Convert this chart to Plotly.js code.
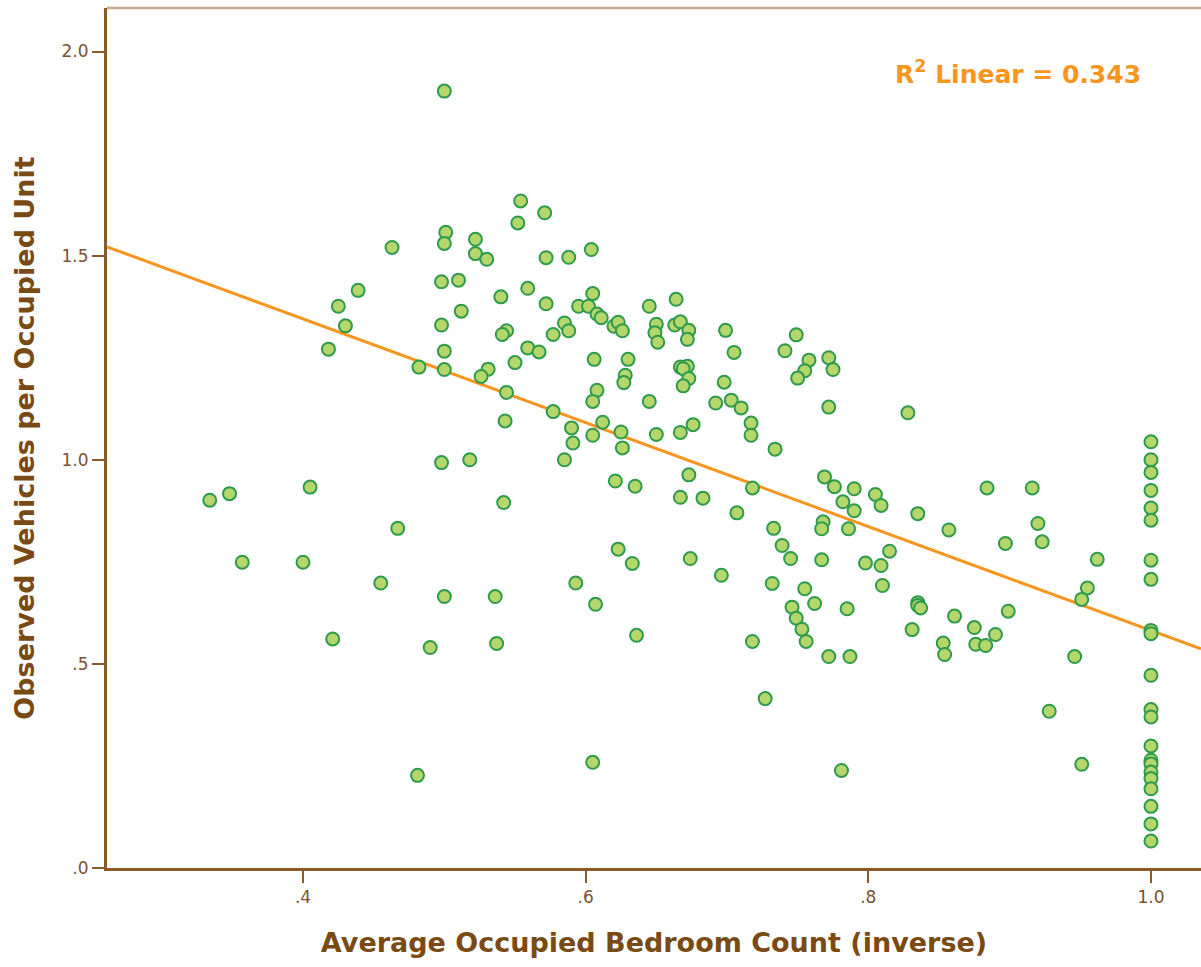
<!DOCTYPE html>
<html>
<head>
<meta charset="utf-8">
<script src="https://cdn.plot.ly/plotly-3.0.1.min.js"></script>
<style>
html,body{margin:0;padding:0;background:#fff;}
#chart{width:1201px;height:967px;}
</style>
</head>
<body>
<div id="chart"></div>
<script>
// Average Occupied Bedroom Count (inverse)
const bedroomInverse = [
  0.554,0.571,0.552,0.501,0.500,0.522,0.522,0.530,0.463,0.572,
  0.498,0.510,0.439,0.540,0.559,0.572,0.425,0.512,0.498,0.430,
  0.544,0.541,0.577,0.418,0.500,0.559,0.567,0.550,0.482,0.500,
  0.531,0.526,0.544,0.543,0.577,0.498,0.518,0.405,0.348,0.334,
  0.542,0.500,
  0.588,0.604,0.605,0.595,0.602,0.608,0.611,0.585,0.588,0.620,
  0.623,0.626,0.645,0.664,0.650,0.649,0.651,0.663,0.667,0.673,
  0.672,0.699,0.705,0.606,0.630,0.628,0.627,0.608,0.605,0.667,
  0.672,0.669,0.673,0.669,0.645,0.698,0.692,0.703,0.710,0.717,
  0.717,0.734,0.741,0.749,0.758,0.755,0.750,0.772,0.775,0.772,
  0.828,0.590,0.591,0.585,0.605,0.612,0.625,0.626,0.650,0.667,
  0.676,0.621,0.635,0.673,0.667,0.683,0.718,0.707,0.769,0.776,
  0.790,0.782,0.790,0.805,0.809,0.768,
  0.884,0.835,0.857,0.897,0.767,0.786,0.733,0.739,0.745,0.767,
  0.798,0.809,0.815,0.810,0.732,0.755,0.762,0.785,0.746,0.749,
  0.753,0.756,0.772,0.787,0.727,0.718,0.674,0.696,0.633,0.623,
  0.636,0.835,0.835,0.837,0.831,0.861,0.875,0.890,0.899,0.853,
  0.854,0.876,0.883,0.781,
  0.467,0.357,0.400,0.455,0.593,0.607,0.500,0.536,0.421,0.490,
  0.537,0.481,0.605,
  1.0,1.0,1.0,1.0,1.0,1.0,1.0,1.0,1.0,1.0,
  1.0,1.0,1.0,1.0,1.0,1.0,1.0,1.0,1.0,1.0,
  1.0,1.0,
  0.916,0.920,0.923,0.962,0.955,0.951,0.946,0.928,0.951
];
// Observed Vehicles per Occupied Unit
const vehiclesPerUnit = [
  1.634,1.605,1.580,1.557,1.530,1.540,1.505,1.491,1.520,1.495,
  1.436,1.440,1.415,1.399,1.420,1.382,1.376,1.364,1.330,1.328,
  1.316,1.307,1.307,1.271,1.266,1.274,1.264,1.238,1.227,1.221,
  1.222,1.204,1.165,1.095,1.118,0.993,1.000,0.933,0.917,0.901,
  0.895,1.903,
  1.496,1.515,1.407,1.376,1.376,1.357,1.348,1.335,1.316,1.327,
  1.337,1.316,1.376,1.393,1.332,1.311,1.288,1.330,1.338,1.317,
  1.295,1.317,1.263,1.246,1.246,1.207,1.189,1.170,1.143,1.227,
  1.229,1.223,1.199,1.181,1.143,1.190,1.139,1.146,1.127,1.090,
  1.060,1.026,1.267,1.306,1.244,1.218,1.200,1.250,1.221,1.129,
  1.115,1.078,1.041,1.000,1.060,1.092,1.068,1.029,1.062,1.067,
  1.086,0.948,0.935,0.963,0.908,0.906,0.931,0.870,0.958,0.934,
  0.929,0.897,0.875,0.915,0.888,0.848,
  0.931,0.868,0.828,0.795,0.831,0.831,0.832,0.790,0.758,0.755,
  0.747,0.741,0.776,0.692,0.697,0.684,0.648,0.635,0.639,0.612,
  0.585,0.555,0.518,0.518,0.415,0.555,0.758,0.717,0.746,0.781,
  0.570,0.650,0.643,0.637,0.584,0.617,0.589,0.572,0.629,0.551,
  0.523,0.548,0.545,0.239,
  0.832,0.749,0.749,0.698,0.698,0.646,0.665,0.665,0.561,0.540,
  0.550,0.227,0.259,
  1.044,1.000,0.969,0.925,0.882,0.852,0.754,0.707,0.582,0.574,
  0.472,0.388,0.370,0.299,0.264,0.255,0.235,0.219,0.194,0.151,
  0.108,0.066,
  0.931,0.844,0.799,0.756,0.686,0.658,0.518,0.384,0.254
];
// Linear fit
const fitIntercept = 1.854;
const fitSlope = -1.272;
const rSquared = 0.343;
const xRange = [0.2613, 1.0354];
const yRange = [0, 2.1066];
const xTickVals = [0.4, 0.6, 0.8, 1.0];
const xTickText = ['.4', '.6', '.8', '1.0'];
const yTickVals = [0, 0.5, 1.0, 1.5, 2.0];
const yTickText = ['.0', '.5', '1.0', '1.5', '2.0'];

const fitX = [xRange[0], xRange[1]];
const fitY = fitX.map(v => fitIntercept + fitSlope * v);

const brown = '#8B5A2B';
const titleBrown = '#7A4A14';
const orange = '#F7961E';

const traces = [
  {
    x: fitX, y: fitY, type: 'scatter', mode: 'lines',
    line: {color: orange, width: 3}, hoverinfo: 'skip', showlegend: false
  },
  {
    x: bedroomInverse, y: vehiclesPerUnit, type: 'scatter', mode: 'markers',
    marker: {size: 13, color: '#B4D66B', line: {color: '#2E9A4C', width: 2}},
    showlegend: false, cliponaxis: false
  }
];

const layout = {
  width: 1201, height: 967,
  margin: {l: 107, r: 0, t: 8, b: 99},
  paper_bgcolor: '#ffffff', plot_bgcolor: '#ffffff',
  font: {family: 'DejaVu Sans, sans-serif', color: titleBrown},
  xaxis: {
    range: xRange, showgrid: false, zeroline: false,
    showline: true, linecolor: brown, linewidth: 2.5,
    ticks: 'outside', ticklen: 12, tickwidth: 2, tickcolor: brown,
    tickvals: xTickVals, ticktext: xTickText,
    tickfont: {size: 17, color: '#7A5230', family: 'DejaVu Sans, sans-serif'},
    title: {text: 'Average Occupied Bedroom Count (inverse)', standoff: 27,
            font: {size: 27, color: titleBrown, family: 'DejaVu Sans, sans-serif', weight: 'bold'}},
    automargin: false, fixedrange: true
  },
  yaxis: {
    range: yRange, showgrid: false, zeroline: false,
    showline: true, linecolor: brown, linewidth: 3,
    ticks: 'outside', ticklen: 12, tickwidth: 2, tickcolor: brown,
    tickvals: yTickVals, ticktext: yTickText,
    tickfont: {size: 17, color: '#7A5230', family: 'DejaVu Sans, sans-serif'},
    title: {text: 'Observed Vehicles per Occupied Unit', standoff: 20,
            font: {size: 27, color: titleBrown, family: 'DejaVu Sans, sans-serif', weight: 'bold'}},
    automargin: false, fixedrange: true
  },
  shapes: [
    {type: 'line', xref: 'paper', yref: 'paper', x0: 0, x1: 1, y0: 1, y1: 1,
     line: {color: '#C9A684', width: 2.5}}
  ],
  annotations: [
    {xref: 'paper', yref: 'paper', x: 0.833, y: 0.925, xanchor: 'center', yanchor: 'middle',
     showarrow: false,
     text: 'R<sup>2</sup> Linear = ' + rSquared.toFixed(3),
     font: {size: 25, color: orange, family: 'DejaVu Sans, sans-serif', weight: 'bold'}}
  ]
};

Plotly.newPlot('chart', traces, layout, {displayModeBar: false, staticPlot: true});
</script>
</body>
</html>
